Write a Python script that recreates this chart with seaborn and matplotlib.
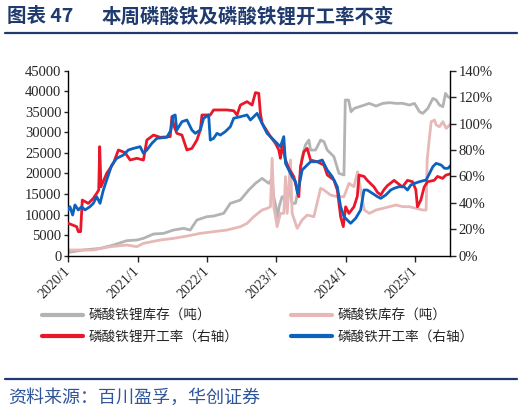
import matplotlib
matplotlib.use('Agg')
import matplotlib.pyplot as plt
import seaborn as sns
from matplotlib.lines import Line2D
from matplotlib.ticker import FuncFormatter, MultipleLocator

sns.set_style('white')
plt.rcParams['font.family'] = ['Noto Sans CJK SC', 'DejaVu Sans']

# 时间用小数年份表示（2020.0 = 2020/1）
# 磷酸铁锂库存（吨，左轴）
lfp_inv_t = [0.000, 0.217, 0.458, 0.651, 0.843, 0.988, 1.084, 1.229, 1.373, 1.518,
             1.663, 1.759, 1.855, 2.000, 2.096, 2.241, 2.337, 2.482, 2.602, 2.699,
             2.795, 2.892, 2.940, 2.964, 2.993, 3.017, 3.041, 3.084, 3.133, 3.181,
             3.229, 3.277, 3.325, 3.373, 3.422, 3.470, 3.494, 3.566, 3.639, 3.687,
             3.735, 3.831, 3.904, 3.976, 3.995, 4.043, 4.077, 4.125, 4.198, 4.342,
             4.439, 4.535, 4.631, 4.728, 4.824, 4.920, 4.993, 5.065, 5.113, 5.186,
             5.258, 5.306, 5.354, 5.402, 5.441, 5.475, 5.523]
lfp_inv = [810, 1380, 1780, 2590, 3650, 3810, 4220, 5270, 5430, 6240,
           6650, 6240, 8680, 9490, 9650, 10300, 12730, 13540, 15970, 17590,
           18810, 17590, 18810, 14350, 11920, 9080, 11920, 14350, 13540, 16780,
           12730, 12730, 17000, 24000, 27000, 28130, 25700, 25700, 28130, 27730,
           25700, 24080, 20030, 19620, 37860, 37860, 35030, 35840, 36240, 37050,
           36400, 37050, 37220, 37050, 37050, 36650, 37050, 35030, 34620, 35840,
           38270, 37860, 36650, 36240, 39490, 38670, 38270]

# 磷酸铁库存（吨，左轴）
fp_inv_t = [0.000, 0.361, 0.602, 0.843, 0.988, 1.084, 1.325, 1.518, 1.711, 1.904,
            2.096, 2.289, 2.482, 2.578, 2.675, 2.795, 2.867, 2.916, 2.940, 2.964,
            3.012, 3.060, 3.108, 3.133, 3.157, 3.205, 3.229, 3.301, 3.373, 3.446,
            3.542, 3.639, 3.687, 3.783, 3.880, 3.976, 4.048, 4.120, 4.173, 4.246,
            4.270, 4.342, 4.439, 4.535, 4.631, 4.728, 4.824, 4.920, 5.017, 5.113,
            5.161, 5.176, 5.200, 5.234, 5.282, 5.306, 5.354, 5.402, 5.451, 5.499,
            5.523]
fp_inv = [1380, 1380, 2190, 2590, 2190, 3000, 3810, 4220, 4780, 5430,
          5840, 6240, 7050, 7860, 9490, 11110, 11510, 11920, 23680, 11920,
          7050, 10300, 10300, 19220, 10300, 23270, 10300, 6650, 8680, 9890,
          9490, 16380, 15970, 14760, 14350, 14350, 17590, 16780, 20430, 13140,
          11110, 10300, 11110, 11510, 11920, 12320, 11920, 11920, 11510, 11110,
          11110, 23270, 27320, 32590, 33000, 31780, 31380, 32590, 30970, 31780,
          32190]

# 磷酸铁锂开工率（%，右轴）
lfp_rate_t = [0.000, 0.120, 0.145, 0.178, 0.202, 0.289, 0.361, 0.410, 0.439, 0.453,
              0.472, 0.554, 0.651, 0.723, 0.819, 0.892, 0.988, 1.084, 1.133, 1.229,
              1.325, 1.470, 1.494, 1.528, 1.566, 1.639, 1.711, 1.783, 1.855, 1.904,
              1.928, 2.048, 2.096, 2.289, 2.386, 2.434, 2.482, 2.578, 2.651, 2.699,
              2.747, 2.771, 2.795, 2.916, 2.988, 3.036, 3.060, 3.084, 3.133, 3.181,
              3.253, 3.301, 3.325, 3.349, 3.398, 3.446, 3.494, 3.590, 3.687, 3.735,
              3.831, 3.880, 3.928, 3.966, 4.000, 4.048, 4.120, 4.169, 4.193, 4.265,
              4.313, 4.410, 4.458, 4.506, 4.554, 4.602, 4.699, 4.747, 4.819, 4.892,
              4.964, 5.012, 5.036, 5.084, 5.133, 5.181, 5.277, 5.325, 5.398, 5.446,
              5.518]
lfp_rate = [24.5, 22.0, 18.2, 18.2, 42.1, 39.6, 43.4, 47.2, 49.7, 82.5,
            52.2, 62.3, 69.9, 80.0, 78.0, 72.4, 73.7, 72.4, 87.5, 91.3,
            89.6, 90.1, 105.2, 97.6, 92.6, 91.3, 80.0, 81.2, 87.5, 95.1,
            106.5, 106.5, 110.3, 110.3, 109.7, 106.5, 114.0, 116.6, 114.0, 123.4,
            122.9, 107.7, 100.2, 90.1, 85.0, 80.0, 73.7, 83.8, 72.4, 66.1,
            59.8, 49.7, 44.7, 67.4, 78.7, 81.2, 72.4, 71.1, 68.6, 61.1,
            57.3, 49.7, 29.5, 22.0, 37, 32, 37, 45, 61, 60,
            57, 52, 48, 46, 50, 53, 57, 55, 52, 57,
            56, 50, 37, 42, 52, 56, 57, 60, 58.5, 61,
            62]

# 磷酸铁开工率（%，右轴）
fp_rate_t = [0.000, 0.024, 0.063, 0.096, 0.145, 0.193, 0.241, 0.313, 0.361, 0.410,
             0.458, 0.506, 0.554, 0.627, 0.699, 0.795, 0.867, 0.940, 1.036, 1.084,
             1.133, 1.205, 1.277, 1.422, 1.480, 1.508, 1.542, 1.566, 1.639, 1.711,
             1.783, 1.831, 1.904, 1.952, 2.024, 2.048, 2.096, 2.145, 2.193, 2.265,
             2.337, 2.386, 2.482, 2.578, 2.627, 2.723, 2.795, 2.867, 2.940, 3.012,
             3.060, 3.108, 3.133, 3.181, 3.229, 3.277, 3.306, 3.335, 3.373, 3.422,
             3.494, 3.590, 3.663, 3.735, 3.807, 3.880, 3.928, 3.976, 4.024, 4.072,
             4.145, 4.217, 4.265, 4.313, 4.386, 4.458, 4.506, 4.578, 4.651, 4.699,
             4.771, 4.843, 4.892, 4.940, 4.993, 5.065, 5.161, 5.210, 5.258, 5.306,
             5.378, 5.427, 5.475, 5.523]
fp_rate = [34.6, 37.1, 30.8, 38.4, 34.6, 37.1, 34.6, 37.1, 39.6, 44.7,
           39.6, 49.7, 57.3, 68.6, 73.7, 76.2, 80.0, 81.2, 82.5, 77.5,
           80.0, 85.0, 88.8, 89.6, 95.1, 105.7, 106.5, 95.1, 101.4, 102.7,
           95.1, 92.6, 95.1, 104.0, 106.5, 87.5, 88.8, 92.6, 91.3, 93.9,
           97.6, 104.0, 105.2, 106.5, 102.7, 107.7, 100.2, 92.6, 88.8, 85.0,
           82.5, 90.1, 69.9, 64.8, 59.8, 56.0, 47.2, 54.7, 64.8, 67.4,
           71.1, 71.1, 72.4, 64.8, 59.8, 52.2, 37.1, 29.5, 27.0, 24.5,
           28.3, 34.6, 49.7, 49.7, 47.2, 44.7, 43.4, 45.9, 49.7, 51.0,
           52.2, 52.2, 49.7, 53.5, 54.7, 56.0, 57.3, 62.3, 67.4, 69.9,
           68.6, 66.1, 66.1, 68.6]

years = [2020, 2021, 2022, 2023, 2024, 2025]
year_labels = ['%d/1' % y for y in years]
names = ['磷酸铁锂库存（吨）', '磷酸铁库存（吨）', '磷酸铁锂开工率（右轴）', '磷酸铁开工率（右轴）']
colors = ['#B3B3B3', '#E6B8B7', '#E8182A', '#0C62BE']

serif = ['Liberation Serif', 'DejaVu Serif']
navy = '#1F3A6E'

fig = plt.figure(figsize=(5.24, 4.13), dpi=100)
ax = fig.add_axes([0.1303, 0.3809, 0.7291, 0.4479])
ax2 = ax.twinx()

sns.lineplot(x=[2020 + t for t in lfp_inv_t], y=lfp_inv, ax=ax, color=colors[0], linewidth=2.0)
sns.lineplot(x=[2020 + t for t in fp_inv_t], y=fp_inv, ax=ax, color=colors[1], linewidth=2.0)
sns.lineplot(x=[2020 + t for t in lfp_rate_t], y=[v / 100 for v in lfp_rate], ax=ax2,
             color=colors[2], linewidth=2.0)
sns.lineplot(x=[2020 + t for t in fp_rate_t], y=[v / 100 for v in fp_rate], ax=ax2,
             color=colors[3], linewidth=2.0)

ax.set_xlim(2020, 2025.51)
ax.set_ylim(0, 45000)
ax2.set_ylim(0, 1.4)
ax.yaxis.set_major_locator(MultipleLocator(5000))
ax2.yaxis.set_major_locator(MultipleLocator(0.2))
ax2.yaxis.set_major_formatter(FuncFormatter(lambda v, p: '%d%%' % round(v * 100)))
ax.set_xticks(years)
ax.set_xticklabels(year_labels, rotation=45, ha='right', va='center', rotation_mode='anchor')

for a in (ax, ax2):
    a.set_xlabel('')
    a.set_ylabel('')
    a.spines['top'].set_visible(False)
    for s in a.spines.values():
        s.set_color('#000000')
        s.set_linewidth(1.0)
ax.spines['right'].set_visible(False)
ax2.spines['left'].set_visible(False)
ax2.spines['bottom'].set_visible(False)

ax.tick_params(axis='y', left=True, direction='out', length=3, width=1, pad=2, labelsize=10.5)
ax.tick_params(axis='x', bottom=True, direction='out', length=4, width=1, pad=6, labelsize=10)
ax2.tick_params(axis='y', right=True, direction='out', length=4, width=1, pad=2, labelsize=10.5)
for lab in ax.get_yticklabels() + ax.get_xticklabels() + ax2.get_yticklabels():
    lab.set_fontfamily(serif)

handles = [Line2D([], [], color=c, linewidth=3) for c in colors]
fig.legend([handles[0], handles[2], handles[1], handles[3]],
           [names[0], names[2], names[1], names[3]],
           ncol=2, loc='upper left', bbox_to_anchor=(42 / 524, 1 - 309 / 413),
           frameon=False, fontsize=9.8, handlelength=3.0, handletextpad=0.4,
           columnspacing=3.9, labelspacing=0.5, borderpad=0, borderaxespad=0)

fig.text(7 / 524, 1 - 17 / 413, '图表 47', fontsize=14, fontweight='bold',
         color=navy, va='center', ha='left')
fig.text(102 / 524, 1 - 17 / 413, '本周磷酸铁及磷酸铁锂开工率不变', fontsize=14,
         fontweight='bold', color=navy, va='center', ha='left')
fig.add_artist(Line2D([5 / 524, 517 / 524], [1 - 33 / 413] * 2, color=navy, linewidth=1.6))
fig.add_artist(Line2D([5 / 524, 517 / 524], [1 - 379 / 413] * 2, color=navy, linewidth=1.6))
fig.text(8 / 524, 1 - 398 / 413, '资料来源：百川盈孚，华创证券',
         fontsize=13, color='#2F559A', va='center', ha='left', style='italic')

fig.savefig('out.png', dpi=100)
